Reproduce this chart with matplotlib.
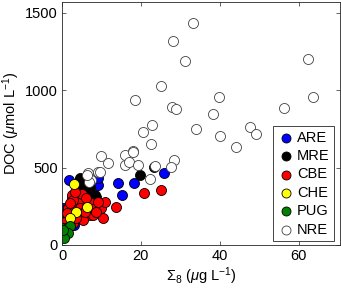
import numpy as np
import matplotlib
matplotlib.use('Agg')
import matplotlib.pyplot as plt

plt.rcParams['font.family'] = ['Liberation Sans', 'DejaVu Sans']
plt.rcParams['mathtext.fontset'] = 'custom'
plt.rcParams['mathtext.rm'] = 'Liberation Sans'
plt.rcParams['mathtext.it'] = 'Liberation Sans:italic'

# data (sum8 in ug/L, DOC in umol/L)
are_x = [1.7, 9.2, 14.3, 18.3, 15.1, 25.8, 0.3, 0.7, 9.1, 1.0, 2.0, 3.0, 0.8]
are_y = [420, 388, 403, 399, 320, 467, 237, 215, 431, 180, 160, 130, 226]

mre_x = [4.5, 5.7, 5.1, 6.6, 7.4, 8.7, 7.0, 6.2, 8.4, 19.7, 23.3, 0.1, 4.6]
mre_y = [431, 409, 366, 345, 312, 312, 377, 334, 323, 452, 505, 194, 425]

cbe_x = [2.4, 3.6, 4.1, 2.8, 4.9, 4.5, 6.2, 7.4, 8.3, 9.5, 1.5, 3.6, 5.3, 7.0,
         7.8, 4.1, 5.3, 10.4, 9.9, 0.7, 2.8, 1.5, 10.9, 13.8, 20.8, 25.1,
         2.5, 2.9, 5.0, 3.3, 2.0, 6.0, 5.8, 3.5, 2.2, 1.2, 8.5, 9.0]
cbe_y = [302, 312, 280, 259, 291, 237, 248, 270, 237, 248, 237, 205, 205, 194,
         194, 172, 162, 172, 237, 151, 140, 108, 276, 248, 334, 356,
         323, 291, 330, 345, 270, 300, 215, 172, 190, 205, 210, 280]

che_x = [3.0, 3.6, 6.4, 1.9]
che_y = [392, 211, 248, 172]

pug_x = [0.3, 1.2, 2.0, 0.8, 1.5, 0.1, 0.5, 0.2]
pug_y = [108, 108, 123, 76, 80, 60, 45, 95]

nre_x = [33.1, 28.2, 31.3, 25.1, 18.6, 39.7, 28.0, 29.0, 38.3, 62.5, 63.7,
         56.3, 33.9, 47.8, 49.1, 40.0, 44.0, 20.5, 22.9, 22.5, 17.9, 9.8,
         11.6, 16.0, 18.1, 16.0, 16.9, 19.3, 23.5, 28.4, 27.6, 22.3, 6.7,
         9.2, 7.4, 6.8, 6.2, 9.6]
nre_y = [1433, 1319, 1189, 1030, 939, 959, 894, 879, 845, 1204, 957,
         888, 748, 763, 718, 707, 636, 733, 778, 653, 610, 575,
         532, 582, 600, 517, 538, 517, 511, 547, 504, 425, 463,
         474, 420, 409, 452, 474]

groups = [('ARE', are_x, are_y, '#0000ff'),
          ('MRE', mre_x, mre_y, '#000000'),
          ('CBE', cbe_x, cbe_y, '#ff0000'),
          ('CHE', che_x, che_y, '#ffff00'),
          ('PUG', pug_x, pug_y, '#008000'),
          ('NRE', nre_x, nre_y, 'white')]

fig = plt.figure(figsize=(3.41, 2.99), dpi=100)
ax = fig.add_axes([0.182, 0.181, 0.815, 0.812])

for name, xs, ys, col in groups:
    ec = '#404040' if name == 'NRE' else 'black'
    ax.scatter(xs, ys, s=52, c=col, edgecolors=ec, linewidths=0.6, label=name)

ax.set_xlim(0, 70.5)
ax.set_ylim(0, 1570)
ax.set_xticks([0, 20, 40, 60])
ax.set_yticks([0, 500, 1000, 1500])
ax.tick_params(direction='in', top=True, right=True, length=3, width=0.5,
               labelsize=10.5, colors='#262626', labelcolor='black', pad=3)
for s in ax.spines.values():
    s.set_linewidth(0.6)
    s.set_color('#262626')

ax.set_xlabel(r'$\Sigma_8$ ($\mu$g L$^{-1}$)', fontsize=10.5, labelpad=2)
ax.set_ylabel(r'DOC ($\mu$mol L$^{-1}$)', fontsize=10.5, labelpad=2)

leg = ax.legend(loc='lower right', bbox_to_anchor=(0.978, 0.016),
                borderaxespad=0, fancybox=False, fontsize=10.5,
                handletextpad=0.15, labelspacing=0.3, borderpad=0.3,
                handlelength=1.2, markerscale=0.9, framealpha=1)
leg.get_frame().set_edgecolor('#262626')
leg.get_frame().set_linewidth(0.6)

fig.savefig('out.png', dpi=100)
